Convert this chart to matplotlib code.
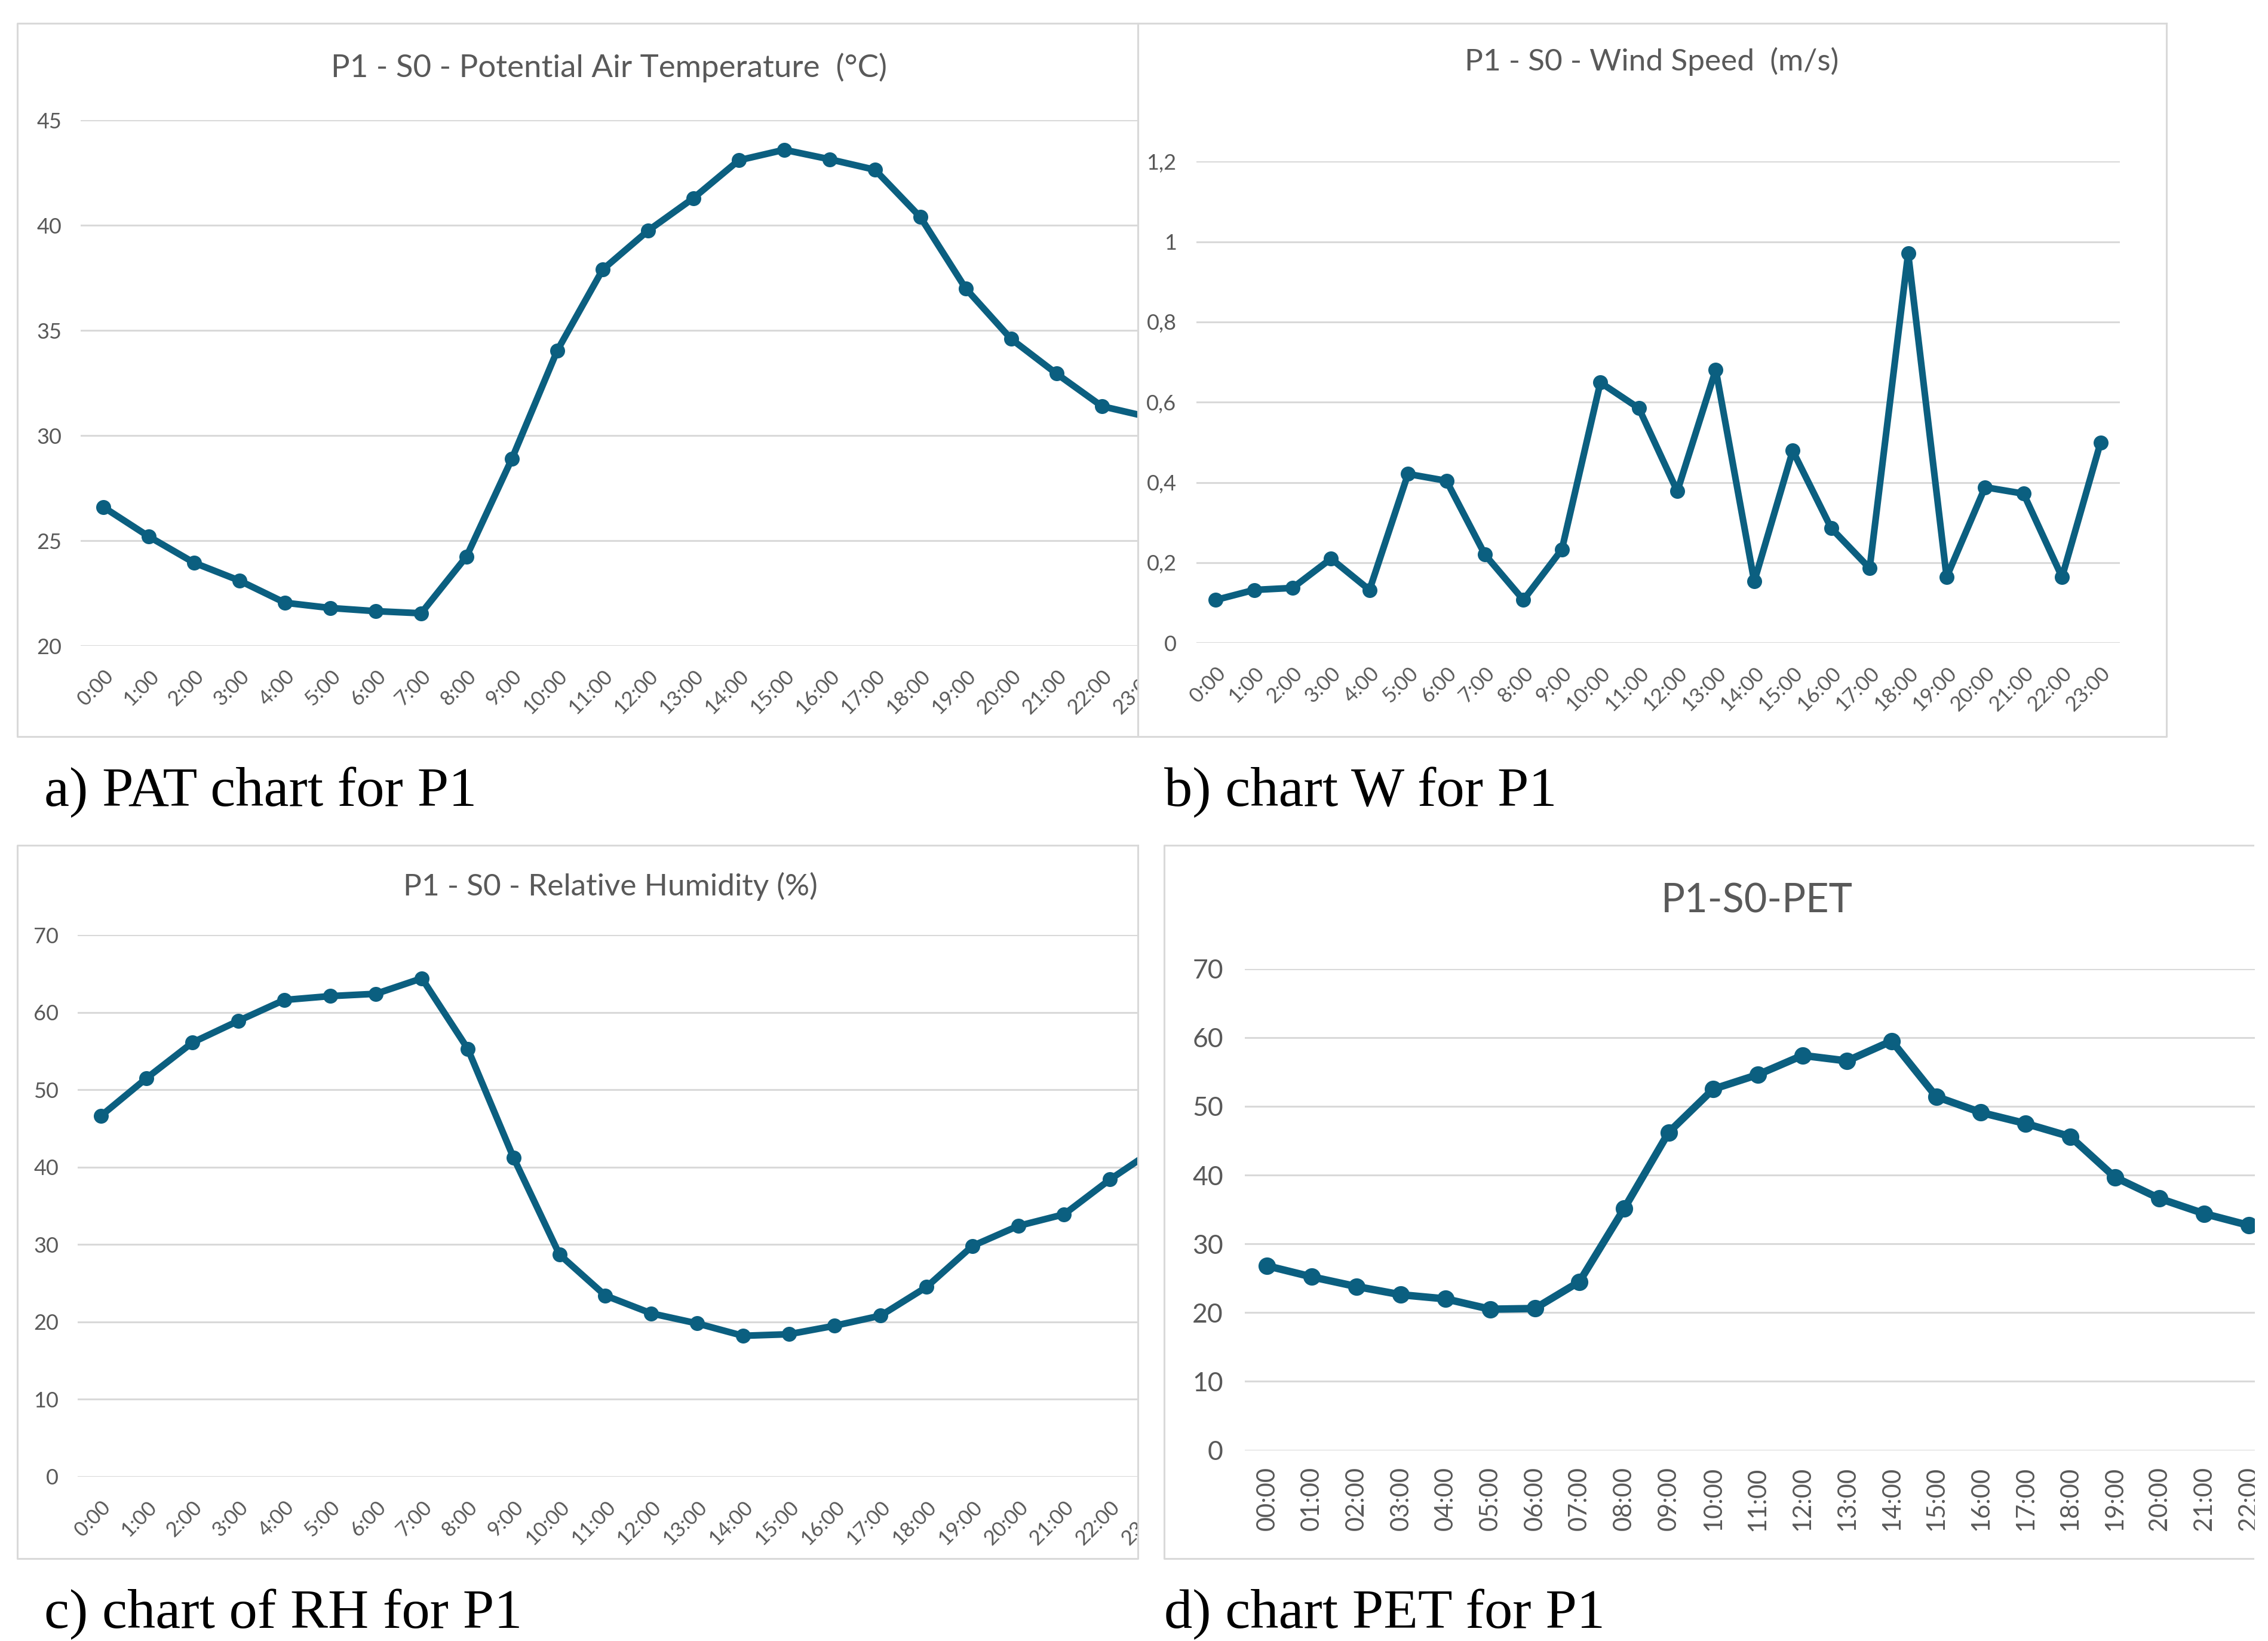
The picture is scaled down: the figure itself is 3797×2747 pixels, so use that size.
import matplotlib.pyplot as plt
from matplotlib.lines import Line2D
from matplotlib.patches import Rectangle

# hourly values
hours = ["0:00", "1:00", "2:00", "3:00", "4:00", "5:00", "6:00", "7:00", "8:00", "9:00", "10:00", "11:00",
         "12:00", "13:00", "14:00", "15:00", "16:00", "17:00", "18:00", "19:00", "20:00", "21:00", "22:00", "23:00"]
hours_pet = ["00:00", "01:00", "02:00", "03:00", "04:00", "05:00", "06:00", "07:00", "08:00", "09:00", "10:00",
             "11:00", "12:00", "13:00", "14:00", "15:00", "16:00", "17:00", "18:00", "19:00", "20:00", "21:00",
             "22:00"]

pat = [26.6, 25.2, 23.95, 23.1, 22.05, 21.8, 21.65, 21.55, 24.25, 28.9, 34.05, 37.9,
       39.75, 41.3, 43.1, 43.6, 43.15, 42.65, 40.4, 37.0, 34.6, 32.95, 31.4, 30.9]
wind = [0.107, 0.132, 0.137, 0.210, 0.132, 0.421, 0.404, 0.220, 0.107, 0.233, 0.649, 0.585,
        0.378, 0.681, 0.153, 0.479, 0.286, 0.186, 0.971, 0.164, 0.388, 0.372, 0.164, 0.499]
rh = [46.6, 51.5, 56.1, 58.9, 61.6, 62.1, 62.4, 64.4, 55.3, 41.2, 28.7, 23.4,
      21.1, 19.8, 18.2, 18.4, 19.5, 20.8, 24.5, 29.8, 32.4, 33.9, 38.4, 42.4]
pet = [26.8, 25.2, 23.8, 22.6, 22.0, 20.5, 20.6, 24.5, 35.1, 46.2, 52.5, 54.6,
       57.4, 56.6, 59.5, 51.4, 49.1, 47.5, 45.6, 39.7, 36.6, 34.4, 32.7]

pat_ticks = [20, 25, 30, 35, 40, 45]
wind_ticks = [0, 0.2, 0.4, 0.6, 0.8, 1.0, 1.2]
wind_tick_labels = ["0", "0,2", "0,4", "0,6", "0,8", "1", "1,2"]
pct_ticks = [0, 10, 20, 30, 40, 50, 60, 70]

LINE = '#0b5f80'
GRID = '#d9d9d9'
TXT = '#595959'
SANS = 'Lato'
SERIF = 'Liberation Serif'

W, H = 1545.0, 1118.0  # layout units of the reference

fig = plt.figure(figsize=(37.97, 27.47), dpi=100)


def rect(x0, y0, x1, y1):
    return [x0 / W, 1 - y1 / H, (x1 - x0) / W, (y1 - y0) / H]


def frame(x0, y0, x1, y1, right=True):
    xs = [x1, x0, x0, x1]
    ys = [y0, y0, y1, y1]
    if right:
        xs = [x1, x0, x0, x1, x1]
        ys = [y0, y0, y1, y1, y0]
    fig.add_artist(Line2D([x / W for x in xs], [1 - y / H for y in ys], color=GRID, lw=2.2,
                          transform=fig.transFigure, zorder=3))


def cover(x0, y0, x1, y1, z):
    # white strip standing in for the cropped edge of a screenshot panel
    fig.add_artist(Rectangle((x0 / W, 1 - y1 / H), (x1 - x0) / W, (y1 - y0) / H, facecolor='white',
                             edgecolor='none', transform=fig.transFigure, zorder=z))


def panel(area, title, tsize, tpos, xlabels, values, ylim, yticks, ylabels,
          fsize, rot, xpad, ypad, lw, ms, z=0):
    ax = fig.add_axes(rect(*area), zorder=z)
    ax.patch.set_visible(False)
    x = list(range(len(xlabels)))
    ax.plot(x[:len(values)], values, color=LINE, lw=lw, marker='o', ms=ms,
            solid_capstyle='round', solid_joinstyle='round')
    ax.set_xlim(-0.5, len(xlabels) - 0.5)
    ax.set_ylim(*ylim)
    ax.set_yticks(yticks)
    ax.set_yticklabels(ylabels, family=SANS, size=fsize[0], color=TXT)
    ax.set_xticks(x)
    if rot == 45:
        ax.set_xticklabels(xlabels, family=SANS, size=fsize[1], color=TXT,
                           rotation=45, ha='right', va='top', rotation_mode='anchor')
    else:
        ax.set_xticklabels(xlabels, family=SANS, size=fsize[1], color=TXT, rotation=90)
    ax.tick_params(axis='x', length=0, pad=xpad)
    ax.tick_params(axis='y', length=0, pad=ypad)
    ax.grid(axis='y', color=GRID, lw=2.2)
    ax.set_axisbelow(True)
    for s in ax.spines.values():
        s.set_visible(False)
    fig.text(tpos[0] / W, 1 - tpos[1] / H, title, family=SANS, size=tsize, color=TXT,
             ha='center', va='center')
    return ax


# a) potential air temperature, cropped at the right edge of its frame
frame(12, 16, 775, 502)
panel((55, 82, 797, 440), "P1 - S0 - Potential Air Temperature  (°C)", 38, (415, 46),
      hours, pat, (20, 45), pat_ticks, [str(v) for v in pat_ticks],
      (26, 25), 45, 25, 23, 8, 17)
cover(776, 16, 802, 540, 1.5)

# b) wind speed
frame(775, 16, 1476, 502)
panel((815, 110, 1444, 438), "P1 - S0 - Wind Speed  (m/s)", 37, (1125, 42),
      hours, wind, (0, 1.2), wind_ticks, wind_tick_labels,
      (26, 25), 45, 25, 24, 8, 17, z=2)

# c) relative humidity, also cropped
frame(12, 576, 775, 1062)
panel((53, 637, 803, 1006), "P1 - S0 - Relative Humidity (%)", 37, (416, 604),
      hours, rh, (0, 70), pct_ticks, [str(v) for v in pct_ticks],
      (26, 25), 45, 25, 23, 8, 17)
cover(776, 570, 808, 1070, 1.5)

# d) PET, cut at the right side
panel((848, 660, 1547, 988), "P1-S0-PET", 48, (1197, 614),
      hours_pet, pet, (0, 70), pct_ticks, [str(v) for v in pct_ticks],
      (32, 30), 90, 20, 26, 9, 20, z=2)
cover(1536, 570, 1560, 1070, 2.5)
frame(793, 576, 1535, 1062, right=False)

caps = [("a) PAT chart for P1", 30, 540), ("b) chart W for P1", 793, 540),
        ("c) chart of RH for P1", 30, 1100), ("d) chart PET for P1", 793, 1100)]
for txt, cx, cy in caps:
    fig.text(cx / W, 1 - cy / H, txt, family=SERIF, size=68, color='black', ha='left', va='center',
             zorder=4)

fig.savefig('out.png', dpi=100, facecolor='white')
